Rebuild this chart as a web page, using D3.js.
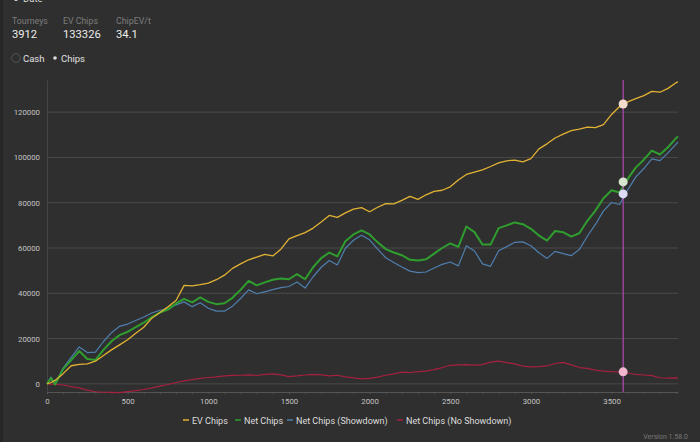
<!DOCTYPE html>
<html>
<head>
<meta charset="utf-8">
<script src="https://cdn.jsdelivr.net/npm/d3@7"></script>
<style>
  html, body { margin: 0; padding: 0; background: #2f2f2f; }
  svg { display: block; font-family: Roboto, "Noto Sans", sans-serif; }
</style>
</head>
<body>
<svg width="700" height="442"></svg>
<script>
// data
var tourneys = [0, 25, 50, 100, 150, 200, 250, 300, 350, 400, 450, 500, 550, 600, 650, 700, 750, 800, 850, 900, 950,
  1000, 1050, 1100, 1150, 1200, 1250, 1300, 1350, 1400, 1450, 1500, 1550, 1600, 1650, 1700, 1750, 1800, 1850, 1900, 1950,
  2000, 2050, 2100, 2150, 2200, 2250, 2300, 2350, 2400, 2450, 2500, 2550, 2600, 2650, 2700, 2750, 2800, 2850, 2900, 2950,
  3000, 3050, 3100, 3150, 3200, 3250, 3300, 3350, 3400, 3450, 3500, 3550, 3600, 3650, 3700, 3750, 3800, 3850, 3900, 3912];

var evChips = [0, 600, 1500, 4500, 8000, 8600, 8800, 10000, 12500, 15000, 17200, 19500, 22300, 25000, 29000, 31500, 34000, 36800, 43500, 43300, 43800,
  44500, 46000, 48000, 51000, 53000, 54800, 56000, 57200, 56500, 59500, 64000, 65500, 66800, 68800, 71500, 74400, 73500, 75500, 77200, 77800,
  76000, 78000, 79600, 79500, 81000, 82800, 81500, 83500, 85000, 85500, 87000, 90000, 92500, 93500, 94500, 96000, 97600, 98500, 98800, 98000,
  99500, 103800, 106000, 108600, 110300, 111800, 112500, 113400, 113200, 114500, 119000, 122500, 124500, 126000, 127300, 129200, 128800, 130500, 133000, 133326];

var netChips = [0, 2500, -300, 6500, 10500, 14500, 11000, 10500, 15000, 18800, 21500, 23000, 25000, 27000, 29500, 31500, 32800, 35500, 37500, 36000, 38200,
  36200, 35200, 35600, 38000, 41500, 45500, 43500, 44800, 46000, 46500, 46200, 48500, 46200, 51500, 55500, 58000, 56300, 63000, 66000, 67800,
  66000, 62500, 59500, 58000, 56800, 54800, 54500, 55000, 57500, 60000, 62000, 60500, 69500, 67000, 61500, 61500, 68800, 70000, 71300, 70500,
  68500, 65500, 63300, 67500, 67000, 65000, 66500, 72000, 76500, 82000, 85500, 84500, 90500, 95500, 99000, 103000, 101300, 104500, 108500, 109300];

var netShowdown = [0, 3000, 0, 7000, 11700, 16300, 13800, 14000, 18700, 22600, 25400, 26400, 28000, 29500, 31300, 32500, 33100, 34900, 36200, 34100, 35800,
  33400, 32100, 32100, 34300, 37700, 41500, 39800, 40600, 41600, 42500, 43000, 45000, 42300, 47300, 51500, 54500, 52500, 59900, 63400, 65600,
  63600, 59500, 55700, 53600, 51600, 49800, 49100, 49400, 51200, 52800, 53800, 52100, 61000, 58700, 53000, 51900, 58800, 60600, 62500, 62700,
  61000, 57900, 55400, 58500, 57500, 56600, 59300, 65200, 70400, 76400, 80100, 79200, 85700, 91300, 95100, 99400, 98600, 102000, 105900, 106800];

var netNoShowdown = [0, -100, -200, -500, -1200, -1800, -2800, -3500, -3700, -3800, -3900, -3400, -3000, -2500, -1800, -1000, -300, 600, 1300, 1900, 2400,
  2800, 3100, 3500, 3700, 3800, 4000, 3700, 4200, 4400, 4000, 3200, 3500, 3900, 4200, 4000, 3500, 3800, 3100, 2600, 2200,
  2400, 3000, 3800, 4400, 5200, 5000, 5400, 5600, 6300, 7200, 8200, 8400, 8500, 8300, 8500, 9600, 10000, 9400, 8800, 7800,
  7500, 7600, 7900, 9000, 9500, 8400, 7200, 6800, 6100, 5600, 5400, 5300, 4800, 4200, 3900, 3600, 2700, 2500, 2600, 2500];

var seriesNames = ["EV Chips", "Net Chips", "Net Chips (Showdown)", "Net Chips (No Showdown)"];
var seriesColors = ["#e2b233", "#2f9e2f", "#4f7fae", "#a5213f"];
var markerColors = ["#f3dccb", "#d7e6cf", "#dcdcf3", "#f2b6cf"];
var seriesWidths = [1.3, 2, 1.2, 1.2];
var seriesValues = [evChips, netChips, netShowdown, netNoShowdown];

// hover point
var hoverTourney = 3572;
var hoverValues = [123600, 89200, 83900, 5300];

var yTicks = [0, 20000, 40000, 60000, 80000, 100000, 120000];
var xTicks = [0, 500, 1000, 1500, 2000, 2500, 3000, 3500];

var stats = [["Tourneys", "3912"], ["EV Chips", "133326"], ["ChipEV/t", "34.1"]];

var svg = d3.select("svg");

svg.append("rect").attr("x", 0).attr("y", 0).attr("width", 3).attr("height", 442).attr("fill", "#262626");

// header
svg.append("circle").attr("cx", 16).attr("cy", -1).attr("r", 2).attr("fill", "#ddd");
svg.append("text").attr("x", 23).attr("y", 2).attr("font-size", 9.5).attr("fill", "#ddd").text("Date");

var statX = [12, 63, 116];
stats.forEach(function(s, i) {
  svg.append("text").attr("x", statX[i]).attr("y", 24).attr("font-size", 8.8).attr("fill", "#7c7c7c").text(s[0]);
  svg.append("text").attr("x", statX[i]).attr("y", 37.5).attr("font-size", 11.2).attr("fill", "#ececec").text(s[1]);
});

svg.append("circle").attr("cx", 16).attr("cy", 58).attr("r", 4.3).attr("fill", "none").attr("stroke", "#555").attr("stroke-width", 1);
svg.append("text").attr("x", 23).attr("y", 61.5).attr("font-size", 9.5).attr("fill", "#e0e0e0").text("Cash");
svg.append("circle").attr("cx", 55).attr("cy", 58).attr("r", 1.8).attr("fill", "#ddd");
svg.append("text").attr("x", 61).attr("y", 61.5).attr("font-size", 9.5).attr("fill", "#e0e0e0").text("Chips");

// chart
var plotLeft = 47, plotRight = 678, plotTop = 80, plotBottom = 392;

var x = d3.scaleLinear().domain([0, 3912]).range([plotLeft, plotRight]);
var y = d3.scaleLinear().domain([-3600, 134200]).range([plotBottom, plotTop]);

var grid = svg.append("g");
grid.selectAll("line").data(yTicks).enter().append("line")
  .attr("x1", plotLeft).attr("x2", plotRight)
  .attr("y1", function(d) { return y(d); }).attr("y2", function(d) { return y(d); })
  .attr("stroke", "#4a4a4a").attr("stroke-width", 1);

var yAxis = svg.append("g").attr("transform", "translate(" + plotLeft + ",0)")
  .call(d3.axisLeft(y).tickValues(yTicks).tickSize(0).tickPadding(7).tickFormat(d3.format("d")));
yAxis.select(".domain").attr("stroke", "#444");
yAxis.selectAll("text").attr("fill", "#c4c4c4").attr("font-size", 7.8).attr("font-family", "Roboto");

var xAxis = svg.append("g").attr("transform", "translate(0," + plotBottom + ")")
  .call(d3.axisBottom(x).tickValues(d3.range(0, 3901, 100)).tickSize(2).tickSizeOuter(0)
    .tickFormat(function(d) { return xTicks.indexOf(d) >= 0 ? d : ""; }));
xAxis.select(".domain").attr("stroke", "#555");
xAxis.selectAll("line").attr("stroke", "#555");
xAxis.selectAll("text").attr("fill", "#c4c4c4").attr("font-size", 7.8).attr("font-family", "Roboto").attr("dy", "0.9em");

var line = d3.line()
  .x(function(d, i) { return x(tourneys[i]); })
  .y(function(d) { return y(d); });

// draw in reverse so EV ends on top like the reference
[3, 2, 1, 0].forEach(function(k) {
  svg.append("path")
    .datum(seriesValues[k])
    .attr("fill", "none")
    .attr("stroke", seriesColors[k])
    .attr("stroke-width", seriesWidths[k])
    .attr("stroke-linejoin", "round")
    .attr("d", line);
});

// hover line and markers
svg.append("line")
  .attr("x1", x(hoverTourney)).attr("x2", x(hoverTourney))
  .attr("y1", plotTop).attr("y2", plotBottom)
  .attr("stroke", "#b44ab4").attr("stroke-width", 1.2);

svg.selectAll(".marker").data(hoverValues).enter().append("circle")
  .attr("class", "marker")
  .attr("cx", x(hoverTourney))
  .attr("cy", function(d) { return y(d); })
  .attr("r", 4.5)
  .attr("fill", function(d, i) { return markerColors[i]; });

// legend
var legendX = [183, 235, 287, 397];
var legend = svg.append("g");
seriesNames.forEach(function(n, i) {
  legend.append("line").attr("x1", legendX[i]).attr("x2", legendX[i] + 6)
    .attr("y1", 420).attr("y2", 420).attr("stroke", seriesColors[i]).attr("stroke-width", 1.5);
  legend.append("text").attr("x", legendX[i] + 9).attr("y", 423.5)
    .attr("font-size", 9).attr("fill", "#dedede").text(n);
});

svg.append("text").attr("x", 688).attr("y", 439).attr("text-anchor", "end")
  .attr("font-size", 7).attr("fill", "#777").text("Version 1.58.0");
</script>
</body>
</html>
